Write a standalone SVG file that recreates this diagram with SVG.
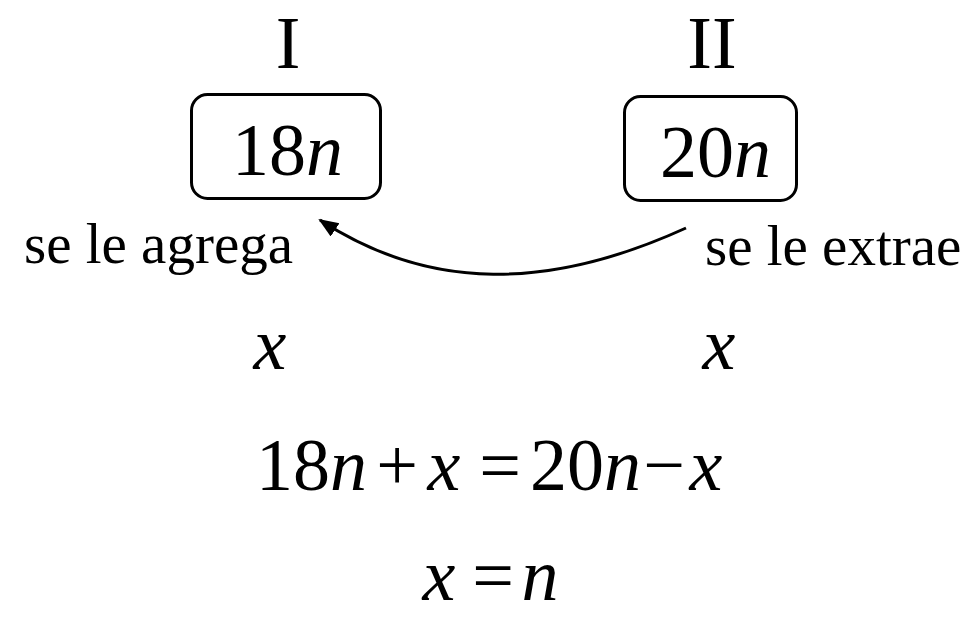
<svg xmlns="http://www.w3.org/2000/svg" width="972" height="618" viewBox="0 0 972 618">
<style>
.t{font-family:"Liberation Serif","Times New Roman",serif;fill:#000}
.m{font-size:74px}
.i{font-style:italic}
.lbl{font-size:57px}
.box{fill:none;stroke:#000;stroke-width:3}
.conn{fill:none;stroke:#000;stroke-width:3}
</style>
<defs>
<marker id="ah" markerUnits="userSpaceOnUse" markerWidth="22" markerHeight="18" refX="18" refY="8" orient="auto">
<path d="M0,0 L20,8 L0,16 z" fill="#000"/>
</marker>
</defs>
<rect width="972" height="618" fill="#fff"/>
<g id="node-I">
<text class="t m" x="288" y="68" text-anchor="middle">I</text>
<rect class="box" x="191.5" y="94.5" width="189" height="104" rx="16"/>
<text class="t m" x="232" y="175">18<tspan class="i">n</tspan></text>
</g>
<g id="node-II">
<text class="t m" x="712" y="68" text-anchor="middle">II</text>
<rect class="box" x="624.5" y="96.5" width="172" height="104" rx="16"/>
<text class="t m" x="660" y="177">20<tspan class="i">n</tspan></text>
</g>
<g id="labels">
<text class="t lbl" x="24" y="263">se le agrega</text>
<text class="t lbl" x="705" y="265">se le extrae</text>
<text class="t m i" x="270" y="369" text-anchor="middle">x</text>
<text class="t m i" x="719" y="369" text-anchor="middle">x</text>
</g>
<g id="equations">
<text class="t m" x="256" y="490">18<tspan class="i">n</tspan></text>
<text class="t m" x="397" y="490" text-anchor="middle">+</text>
<text class="t m i" x="444" y="490" text-anchor="middle">x</text>
<text class="t m" x="500" y="490" text-anchor="middle">=</text>
<text class="t m" x="530" y="490">20<tspan class="i">n</tspan></text>
<text class="t m" x="664" y="490" text-anchor="middle">−</text>
<text class="t m i" x="706" y="490" text-anchor="middle">x</text>
<text class="t m i" x="439" y="600" text-anchor="middle">x</text>
<text class="t m" x="493" y="600" text-anchor="middle">=</text>
<text class="t m i" x="540" y="600" text-anchor="middle">n</text>
</g>
<g id="connectors">
<path class="conn" d="M686,228 C550,290 430,292 320,220" marker-end="url(#ah)"/>
</g>
</svg>
